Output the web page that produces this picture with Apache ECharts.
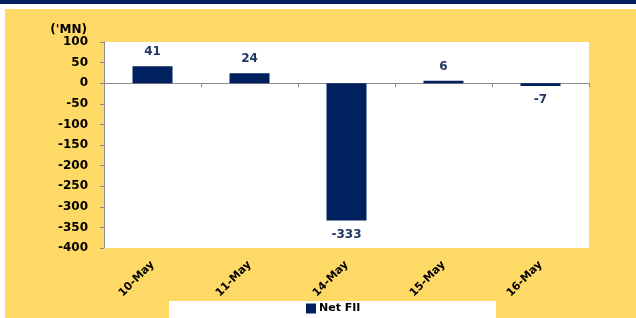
<!DOCTYPE html>
<html>
<head>
<meta charset="utf-8">
<script src="https://cdn.jsdelivr.net/npm/echarts@6/dist/echarts.min.js"></script>
<style>html,body{margin:0;padding:0;background:#fff;}#c{width:636px;height:318px;}</style>
</head>
<body>
<div id="c"></div>
<script>
var categories = ['10-May', '11-May', '14-May', '15-May', '16-May'];
var netFII = [41, 24, -333, 6, -7];
var yTicks = { min: -400, max: 100, interval: 50 };
var seriesName = 'Net FII';
var unitLabel = "('MN)";

var navy = '#002060';
var chart = echarts.init(document.getElementById('c'));
var fontFam = '"DejaVu Sans", sans-serif';
chart.setOption({
  backgroundColor: '#ffffff',
  animation: false,
  graphic: [
    { type: 'rect', z: -10, shape: { x: 0, y: 0, width: 636, height: 4 }, style: { fill: navy } },
    { type: 'rect', z: -10, shape: { x: 5, y: 9, width: 631, height: 309 }, style: { fill: '#FFD966' } },
    { type: 'rect', z: -5, shape: { x: 169, y: 301, width: 327, height: 17 }, style: { fill: '#ffffff' } }
  ],
  grid: { left: 104, top: 42, right: 47, bottom: 70, show: true, backgroundColor: '#ffffff', borderWidth: 0 },
  legend: {
    data: [seriesName], top: 303, left: 306, itemWidth: 10, itemHeight: 10, itemGap: 3, padding: 0,
    icon: 'rect',
    textStyle: { fontWeight: 'bold', fontSize: 11, color: '#000', fontFamily: fontFam, padding: [0, 0, 0, -2] }
  },
  xAxis: [
    {
      type: 'category', data: categories, position: 'bottom',
      axisLine: { onZero: true, lineStyle: { color: '#8c8c8c', width: 1 } },
      axisTick: { show: true, alignWithLabel: false, length: 4, lineStyle: { color: '#8c8c8c' } },
      axisLabel: { show: false }
    },
    {
      type: 'category', data: categories, position: 'bottom',
      axisLine: { show: false, onZero: false }, axisTick: { show: false },
      axisLabel: { rotate: 45, margin: 15, fontWeight: 'bold', fontSize: 11, color: '#000', fontFamily: fontFam, interval: 0 }
    }
  ],
  yAxis: {
    type: 'value', min: yTicks.min, max: yTicks.max, interval: yTicks.interval,
    name: unitLabel, nameLocation: 'end', nameGap: 0,
    nameTextStyle: { fontWeight: 'bold', fontSize: 12, color: '#000', fontFamily: fontFam, align: 'right', padding: [0, 17, 0, 0] },
    axisLine: { show: true, lineStyle: { color: '#8c8c8c' } },
    axisTick: { show: true, length: 4, lineStyle: { color: '#8c8c8c' } },
    splitLine: { show: false },
    axisLabel: { fontWeight: 'bold', fontSize: 12, color: '#000', fontFamily: fontFam, margin: 16 }
  },
  series: [{
    name: seriesName, type: 'bar', xAxisIndex: 0, barWidth: 40,
    itemStyle: { color: navy },
    data: netFII.map(function (v) {
      return { value: v, label: { position: v >= 0 ? 'top' : 'bottom' } };
    }),
    label: { show: true, distance: 8, fontWeight: 'bold', fontSize: 12, color: '#1f3864', fontFamily: fontFam }
  }]
});
</script>
</body>
</html>
